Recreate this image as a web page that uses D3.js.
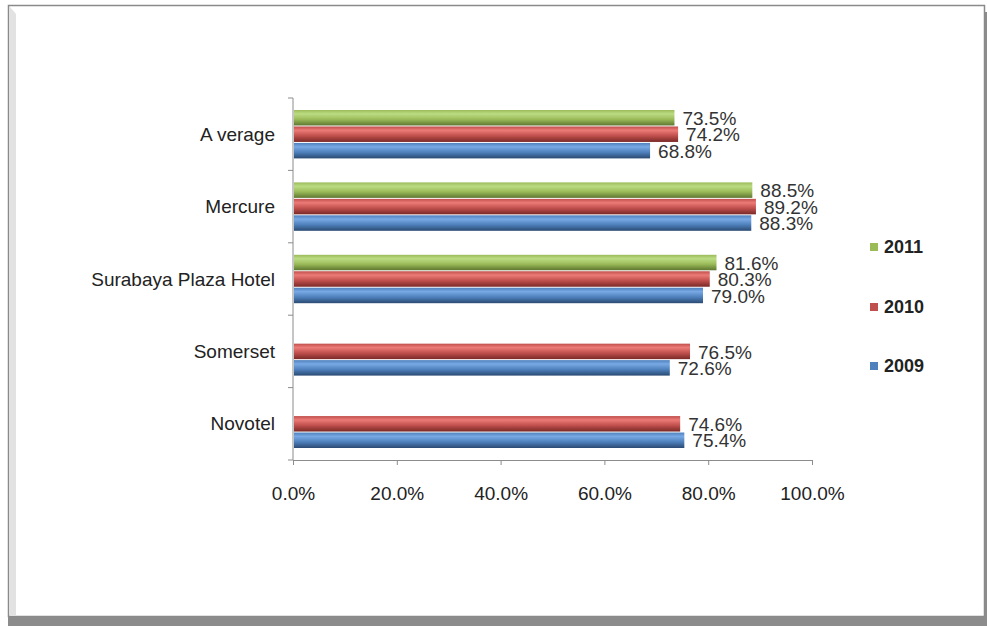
<!DOCTYPE html>
<html>
<head>
<meta charset="utf-8">
<script src="https://cdn.jsdelivr.net/npm/d3@7"></script>
<style>
  body { margin: 0; background: #fff; }
  svg text { font-family: "Liberation Sans", Arial, sans-serif; }
</style>
</head>
<body>
<svg width="987" height="626"></svg>
<script>
var width = 987;
var height = 626;
var margin = {left: 293, right: 175, top: 98, bottom: 166};

// categories top to bottom
var hotels = ["A verage", "Mercure", "Surabaya Plaza Hotel", "Somerset", "Novotel"];
var years = ["2011", "2010", "2009"];
var values2011 = [73.5, 88.5, 81.6, null, null];
var values2010 = [74.2, 89.2, 80.3, 76.5, 74.6];
var values2009 = [68.8, 88.3, 79.0, 72.6, 75.4];
var xTicks = [0, 20, 40, 60, 80, 100];

var colors = {
  "2011": ["#bcdc84", "#9bbb59", "#5e7630"],
  "2010": ["#ec7a77", "#c0504d", "#7a2927"],
  "2009": ["#78a9e4", "#4f81bd", "#2a4a72"]
};

var svg = d3.select('svg');

// frame with shadow
svg.append('rect').attr('x', 8).attr('y', 617).attr('width', 979).attr('height', 9).attr('fill', '#8c8c8c');
svg.append('rect').attr('x', 985).attr('y', 12).attr('width', 2).attr('height', 614).attr('fill', '#8c8c8c');
svg.append('rect').attr('x', 8.5).attr('y', 5.5).attr('width', 976).attr('height', 611)
  .attr('fill', '#fff').attr('stroke', '#8a8a8a').attr('stroke-width', 1.5);
svg.append('path').attr('d', 'M10,7 L16,14 L16,616 L10,616 Z').attr('fill', '#e2e2e2');

// gradients
var defs = svg.append('defs');
years.forEach(function(y) {
  var g = defs.append('linearGradient').attr('id', 'g' + y)
    .attr('x1', 0).attr('y1', 0).attr('x2', 0).attr('y2', 1);
  g.append('stop').attr('offset', '0%').attr('stop-color', colors[y][1]);
  g.append('stop').attr('offset', '25%').attr('stop-color', colors[y][0]);
  g.append('stop').attr('offset', '60%').attr('stop-color', colors[y][1]);
  g.append('stop').attr('offset', '100%').attr('stop-color', colors[y][2]);
});

var xScale = d3.scaleLinear().domain([0, 100]).range([margin.left, width - margin.right]);
var yScale = d3.scaleBand().domain(hotels).range([margin.top, height - margin.bottom]);
var slotScale = d3.scaleBand().domain(years).range([12, yScale.bandwidth() - 12]).paddingInner(0.06);

var rows = [];
hotels.forEach(function(h, i) {
  rows.push({hotel: h, year: "2011", value: values2011[i]});
  rows.push({hotel: h, year: "2010", value: values2010[i]});
  rows.push({hotel: h, year: "2009", value: values2009[i]});
});
rows = rows.filter(function(d) { return d.value != null; });

// axes
var axisBottom = d3.axisBottom(xScale).tickValues(xTicks).tickSize(5).tickSizeOuter(0)
  .tickFormat(function(d) { return d.toFixed(1) + '%'; });
var gx = svg.append('g')
  .attr('transform', 'translate(0,' + (height - margin.bottom) + ')')
  .call(axisBottom);
gx.select('.domain').attr('stroke', '#8c8c8c');
gx.selectAll('.tick line').attr('stroke', '#8c8c8c');
gx.selectAll('.tick text').attr('font-size', 19).attr('fill', '#222').attr('dy', 32);

var gy = svg.append('g').attr('transform', 'translate(' + margin.left + ',0)');
gy.append('line').attr('x1', 0).attr('x2', 0)
  .attr('y1', margin.top).attr('y2', height - margin.bottom).attr('stroke', '#8c8c8c');
var yTicks = hotels.map(function(h) { return yScale(h); }).concat([height - margin.bottom]);
gy.selectAll('.ytick').data(yTicks).enter().append('line')
  .attr('x1', -5).attr('x2', 0).attr('y1', function(d) { return d; }).attr('y2', function(d) { return d; })
  .attr('stroke', '#8c8c8c');
gy.selectAll('.ylab').data(hotels).enter().append('text')
  .attr('x', -18)
  .attr('y', function(d) { return yScale(d) + yScale.bandwidth() / 2; })
  .attr('dy', '0.35em').attr('text-anchor', 'end').attr('font-size', 19).attr('fill', '#222')
  .text(function(d) { return d; });

// bars
svg.selectAll('.bar').data(rows).enter().append('rect')
  .attr('x', xScale(0) + 1)
  .attr('y', function(d) { return yScale(d.hotel) + slotScale(d.year); })
  .attr('width', function(d) { return xScale(d.value) - xScale(0) - 1; })
  .attr('height', slotScale.bandwidth())
  .attr('fill', function(d) { return 'url(#g' + d.year + ')'; });

svg.selectAll('.val').data(rows).enter().append('text')
  .attr('x', function(d) { return xScale(d.value) + 8; })
  .attr('y', function(d) { return yScale(d.hotel) + slotScale(d.year) + slotScale.bandwidth() / 2; })
  .attr('dy', '0.38em').attr('font-size', 19).attr('fill', '#333')
  .text(function(d) { return d.value.toFixed(1) + '%'; });

// legend
var legendY = {"2011": 247, "2010": 307, "2009": 366};
var leg = svg.selectAll('.leg').data(years).enter().append('g')
  .attr('transform', function(d) { return 'translate(870,' + legendY[d] + ')'; });
leg.append('rect').attr('x', 0).attr('y', -4).attr('width', 8).attr('height', 8)
  .attr('fill', function(d) { return colors[d][1]; });
leg.append('text').attr('x', 14).attr('dy', '0.36em').attr('font-size', 18)
  .attr('font-weight', 'bold').attr('fill', '#222').text(function(d) { return d; });
</script>
</body>
</html>
